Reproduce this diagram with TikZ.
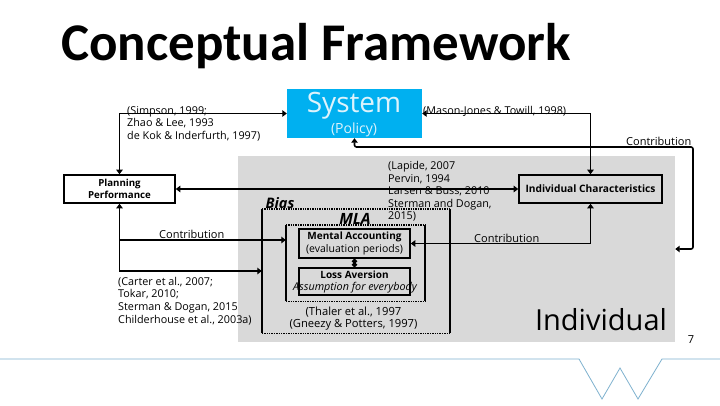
\documentclass[tikz,border=0pt]{standalone}
\usepackage{fontspec}
\setmainfont{Open Sans}
\newfontfamily\titlefont{Carlito}
\usepackage{xcolor}
\usetikzlibrary{arrows.meta,positioning,calc}
\definecolor{cSky}{HTML}{00B0F0}
\definecolor{cPanel}{HTML}{D9D9D9}
\definecolor{cRule}{HTML}{7FB2CF}
\definecolor{cPale}{HTML}{DDF3FC}
\tikzset{
  arr/.style={-{Triangle[length=4.5pt,width=6.5pt]},line width=1.6pt,color=black},
  darr/.style={{Triangle[length=4.5pt,width=6.5pt]}-{Triangle[length=4.5pt,width=6.5pt]},line width=1.6pt,color=black},
  kbox/.style={draw=black,line width=1.6pt,align=center,inner sep=0pt,font=\fontsize{10}{12.8}\selectfont,minimum width=#1},
  cite/.style={align=left,inner sep=0pt,anchor=west,font=\fontsize{10.8}{12.6}\selectfont},
  ctext/.style={align=center,inner sep=0pt,font=\fontsize{11.2}{12.8}\selectfont},
  frame/.style={inner sep=0pt,minimum width=#1},
  dotline/.style={line width=1.4pt,densely dotted},
}
\begin{document}
\begin{tikzpicture}[x=1pt,y=-1pt]
    \useasboundingbox (0,0) rectangle (720,405);
    \fill[white] (0,0) rectangle (720,405);
    % panel and frames
    \node[fill=cPanel,inner sep=0pt,minimum width=437pt,minimum height=186pt] (panel) at (456.5,249) {};
    \node[frame=188pt,minimum height=124pt] (bias) at (356,271) {};
    \node[frame=139pt,minimum height=76pt] (mla) at (355.5,263) {};
    \draw[dotline] (bias.north west) -- (bias.north east);
    \draw[dotline] (bias.south west) -- (bias.south east);
    \draw[line width=1.6pt] (bias.north west) -- (bias.south west);
    \draw[line width=1.6pt] (bias.north east) -- (bias.south east);
    \draw[dotline] (mla.north west) -- (mla.north east);
    \draw[dotline] (mla.south west) -- (mla.south east);
    \draw[line width=1.6pt] (mla.north west) -- (mla.south west);
    \draw[line width=1.6pt] (mla.north east) -- (mla.south east);
    % boxes
    \node[fill=cSky,inner sep=0pt,minimum width=135pt,minimum height=49pt] (system) at (354.5,113.5) {};
    \node[kbox=111pt,minimum height=28pt,fill=white,font=\fontsize{9.7}{12.5}\selectfont] (planning) at (119.5,189) {\textbf{Planning}\\\textbf{Performance}};
    \node[kbox=143pt,minimum height=28pt,font=\fontsize{10.2}{12.5}\selectfont] (indiv) at (590.5,189) {\textbf{Individual Characteristics}};
    \node[kbox=111pt,minimum height=29pt] (mental) at (354.5,243.5) {\textbf{Mental Accounting}\\{\fontsize{10.5}{12.8}\selectfont (evaluation periods)}};
    \node[kbox=111pt,minimum height=27pt] (loss) at (354.5,281.5) {\textbf{Loss Aversion}\\\hphantom{x}};
    % free ends
    \coordinate (tap) at (planning.south |- 0,240);
    \coordinate (mlain) at (mla.west |- 0,240);
    \coordinate (turn) at (693,147);
    % connectors
    \draw[darr] (planning.north) |- (system.west);
    \draw[darr] (system.east) -| (indiv.north);
    \draw[darr] (planning.east) -- (indiv.west);
    \draw[darr] (planning.south) |- (bias.west);
    \draw[arr] (tap) -- (mlain);
    \draw[darr] (indiv.south) |- (mental.east);
    \draw[line width=1.6pt,{Circle[length=5pt]}-{Circle[length=5pt]}] (mental.south) -- (loss.north);
    \draw[darr,rounded corners=2pt] (system.south) |- (turn) |- (panel.east);
    % texts
    \node[inner sep=0pt,anchor=west,font=\fontsize{53}{53}\selectfont\titlefont\bfseries] (title) at (61,46) {Conceptual Framework};
    \node[inner sep=0pt,text=cPale,font=\fontsize{28}{28}\selectfont] (systemtxt) at (354,106) {System};
    \node[inner sep=0pt,text=cPale,font=\fontsize{14}{14}\selectfont] (policy) at (354,130) {(Policy)};
    \node[cite] (simpson) at (127,123.5) {(Simpson, 1999;\\Zhao \& Lee, 1993\\de Kok \& Inderfurth, 1997)};
    \node[cite] (mason) at (423,111) {(Mason-Jones \& Towill, 1998)};
    \node[cite] (lapide) at (388,191.5) {(Lapide, 2007\\Pervin, 1994\\Larsen \& Buss, 2010\\Sterman and Dogan,\\2015)};
    \node[cite] (carter) at (118,301) {(Carter et al., 2007;\\Tokar, 2010;\\Sterman \& Dogan, 2015\\Childerhouse et al., 2003a)};
    \node[ctext] (thaler) at (353.5,318.5) {(Thaler et al., 1997\\(Gneezy \& Potters, 1997)};
    \node[cite,font=\fontsize{11}{12}\selectfont] (contriba) at (159,234.5) {Contribution};
    \node[cite,font=\fontsize{11}{12}\selectfont] (contribb) at (474,238.5) {Contribution};
    \node[cite,font=\fontsize{11}{12}\selectfont] (contribc) at (626,141) {Contribution};
    \node[inner sep=0pt,font=\fontsize{14.5}{14.5}\selectfont\itshape\bfseries] (biastxt) at (280,203) {Bias};
    \node[inner sep=0pt,font=\fontsize{15.5}{15.5}\selectfont\itshape\bfseries] (mlatxt) at (355,219) {MLA};
    \node[inner sep=0pt,font=\fontsize{10.8}{12}\selectfont\itshape] (assume) at (355,288) {Assumption for everybody};
    \node[inner sep=0pt,font=\fontsize{29}{29}\selectfont] (individual) at (601,320) {Individual};
    \node[inner sep=0pt,font=\fontsize{11}{11}\selectfont] (pageno) at (691,340) {7};
    % footer rule
    \draw[cRule,line width=0.8pt] (0,359) -- (579,359) -- (602,399) -- (620,368) -- (638,399) -- (662,359) -- (720,359);
\end{tikzpicture}
\end{document}
